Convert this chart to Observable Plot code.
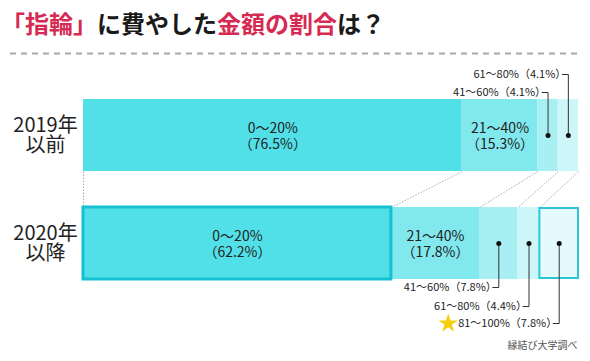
<!DOCTYPE html>
<html><head><meta charset="utf-8">
<script src="https://cdn.jsdelivr.net/npm/d3@7"></script>
<script src="https://cdn.jsdelivr.net/npm/@observablehq/plot@0.6"></script>
<style>
body{margin:0;background:#fff;font-family:"Noto Sans CJK JP",sans-serif;}
#wrap{position:relative;width:590px;height:361px;overflow:hidden;}
#chart{position:absolute;left:0;top:0;}
#title{position:absolute;left:1px;top:0;height:46px;line-height:46px;font-size:24px;font-weight:700;color:#1a1a1a;white-space:nowrap;}
.hl{color:#d62a52}
#dash{position:absolute;left:10px;top:52px;}
</style></head><body>
<div id="wrap">
<div id="chart"></div>
<div id="title"><span class="hl">「指輪」</span>に費やした<span class="hl">金額の割合</span>は？</div>
<svg id="dash" width="572" height="3"><line x1="0" y1="1.5" x2="572" y2="1.5" stroke="#a8a8a8" stroke-width="2" stroke-dasharray="6 5"/></svg>
</div>
<script>
// ---- data ----
const categories = ["0～20%", "21～40%", "41～60%", "61～80%", "81～100%"];
const years = ["2019年以前", "2020年以降"];
const yearLabels = ["2019年\n以前", "2020年\n以降"];
const values2019 = [76.5, 15.3, 4.1, 4.1, 0];
const values2020 = [62.2, 17.8, 7.8, 4.4, 7.8];
const colors = ["#52e0e8", "#81e9ee", "#a8eff3", "#cdf6f9", "#e4fafc"];
const caption = "縁結び大学調べ";

// ---- layout ----
const W = 590, H = 361, X0 = 83, X1 = 578, Y0 = 99, UNIT = 72, GAP = 0.5;
const pxPerX = (X1 - X0) / 100;
const allValues = [values2019, values2020];

const segs = [];
years.forEach((yr, r) => {
  const vals = allValues[r];
  const ends = d3.cumsum(vals);
  categories.forEach((c, i) => {
    const top = r * (1 + GAP);
    segs.push({year: yr, row: r, cat: c, i, value: vals[i],
      x1: ends[i] - vals[i], x2: ends[i], y1: top, y2: top + 1, yc: top + 0.5});
  });
});
const visible = segs.filter(d => d.value > 0);

// connectors between matching boundaries
const connectors = categories.map((c, i) => {
  const a = segs.find(d => d.row === 0 && d.i === i);
  const b = segs.find(d => d.row === 1 && d.i === i);
  return {xa: a.x1, ya: a.y2, xb: b.x1, yb: b.y1};
});

// leader labels (offset in px from bar edge)
const leaderLevels = [
  {row: 0, i: 2, off: 7}, {row: 0, i: 3, off: 25},
  {row: 1, i: 2, off: 8}, {row: 1, i: 3, off: 27}, {row: 1, i: 4, off: 44}
];
const leaders = leaderLevels.map(l => {
  const s = segs.find(d => d.row === l.row && d.i === l.i);
  const elbow = l.row === 0 ? s.y1 - l.off / UNIT : s.y2 + l.off / UNIT;
  return {...s, mid: (s.x1 + s.x2) / 2, elbow, id: l.row + "-" + l.i};
});
const leaderPts = leaders.flatMap(d => [
  {id: d.id, x: d.mid - 6 / pxPerX, y: d.elbow},
  {id: d.id, x: d.mid, y: d.elbow},
  {id: d.id, x: d.mid, y: d.yc}
]);

const rowsInfo = years.map((y, r) => ({label: yearLabels[r], yc: r * (1 + GAP) + 0.5}));

const chart = Plot.plot({
  width: W, height: H,
  marginLeft: X0, marginRight: W - X1, marginTop: Y0, marginBottom: H - (Y0 + (2 + GAP) * UNIT),
  x: {domain: [0, 100], axis: null},
  y: {domain: [0, 2 + GAP], reverse: true, axis: null},
  color: {domain: categories, range: colors},
  style: {fontFamily: '"Noto Sans CJK JP", sans-serif', color: "#222", background: "transparent", overflow: "visible"},
  marks: [
    Plot.link(connectors, {x1: "xa", y1: "ya", x2: "xb", y2: "yb", stroke: "#aaa", strokeWidth: 1, strokeDasharray: "1.5,1.5"}),
    Plot.rect(visible, {x1: "x1", x2: "x2", y1: "y1", y2: "y2", fill: "cat"}),
    Plot.rect(visible.filter(d => d.row === 1 && d.i === 0), {x1: "x1", x2: "x2", y1: "y1", y2: "y2", fill: "none", stroke: "#16c0d3", strokeWidth: 3}),
    Plot.rect(visible.filter(d => d.row === 1 && d.i === 4), {x1: "x1", x2: "x2", y1: "y1", y2: "y2", fill: "none", stroke: "#2cc6d9", strokeWidth: 2, insetTop: 1, insetBottom: 1}),
    Plot.text(visible.filter(d => d.i < 2), {x: d => (d.x1 + d.x2) / 2, y: "yc", text: d => `${d.cat}\n（${d.value.toFixed(1)}%）`, fontSize: 14, lineHeight: 1.15, fill: "#222"}),
    Plot.line(leaderPts, {x: "x", y: "y", z: "id", stroke: "#333", strokeWidth: 1}),
    Plot.dot(leaders, {x: "mid", y: "yc", r: 2.5, fill: "#111"}),
    Plot.text(leaders, {x: "mid", y: "elbow", text: d => `${d.cat}（${d.value.toFixed(1)}%）`, textAnchor: "end", dx: -2, fontSize: 11, fill: "#222"}),
    Plot.dot(leaders.filter(d => d.i === 4), {x: "mid", y: "elbow", symbol: "star", r: 6, fill: "#f5cf0a", dx: -111}),
    Plot.text(rowsInfo, {y: "yc", frameAnchor: "left", textAnchor: "middle", dx: -38, text: "label", fontSize: 20, lineHeight: 1.0, fill: "#222"}),
    Plot.text([caption], {frameAnchor: "bottom-right", textAnchor: "end", lineAnchor: "middle", dy: 66, dx: -1, fontSize: 10, fill: "#555"})
  ]
});
document.getElementById("chart").appendChild(chart);
</script>
</body></html>
